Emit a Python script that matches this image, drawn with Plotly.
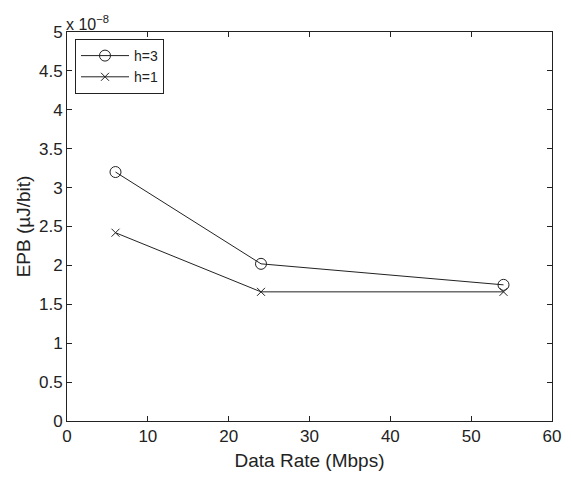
import plotly.graph_objects as go

rates = [6, 24, 54]
epb_h3 = [3.20, 2.02, 1.75]   # x 1e-8
epb_h1 = [2.42, 1.66, 1.66]   # x 1e-8
xticks = [0, 10, 20, 30, 40, 50, 60]
yticks = [0, 0.5, 1, 1.5, 2, 2.5, 3, 3.5, 4, 4.5, 5]

FAM = "Liberation Sans, Arial, sans-serif"
INK = "#222"
tick_font = dict(family=FAM, size=17, color=INK)
title_font = dict(family=FAM, size=19, color=INK)

fig = go.Figure()
fig.add_trace(go.Scatter(x=rates, y=epb_h3, mode="lines+markers", name="h=3",
                         line=dict(color=INK, width=1),
                         marker=dict(symbol="circle-open", size=11, color=INK, line=dict(width=1, color=INK))))
fig.add_trace(go.Scatter(x=rates, y=epb_h1, mode="lines+markers", name="h=1",
                         line=dict(color=INK, width=1),
                         marker=dict(symbol="x-thin-open", size=8, color=INK, line=dict(width=1, color=INK))))

axis_common = dict(showline=True, linecolor=INK, linewidth=1, mirror="ticks",
                   ticks="inside", ticklen=5, tickcolor=INK, showgrid=False,
                   zeroline=False, tickfont=tick_font, automargin=False)
fig.update_xaxes(range=[0, 60], tickvals=xticks,
                 title=dict(text="Data Rate (Mbps)", font=title_font, standoff=8),
                 **axis_common)
fig.update_yaxes(range=[0, 5], tickvals=yticks, ticktext=[f"{v:g}" for v in yticks],
                 title=dict(text="EPB (µJ/bit)", font=title_font, standoff=3), **axis_common)

fig.add_annotation(x=0, y=1, xref="paper", yref="paper", xanchor="left", yanchor="bottom",
                   text="x 10<sup>−8</sup>", showarrow=False,
                   font=dict(family=FAM, size=16, color=INK), xshift=-3, yshift=-3)

fig.update_layout(width=572, height=478, margin=dict(l=67, r=20, t=32, b=57),
                  plot_bgcolor="white", paper_bgcolor="white", font=tick_font,
                  legend=dict(x=0.0165, y=0.982, xanchor="left", yanchor="top",
                              bordercolor=INK, borderwidth=1, bgcolor="white",
                              font=dict(family=FAM, size=14, color=INK),
                              tracegroupgap=0, itemwidth=48),
                  showlegend=True)

fig.write_html("out.html")
